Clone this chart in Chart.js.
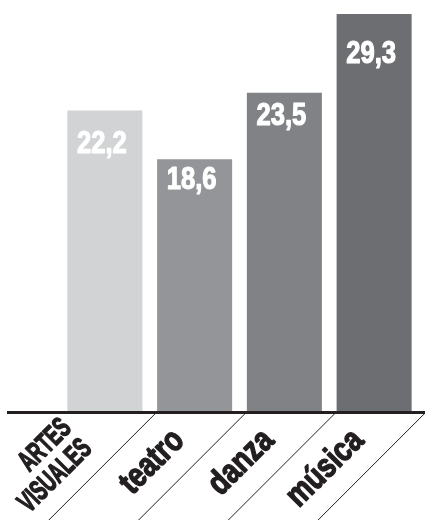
<!DOCTYPE html>
<html>
<head>
<meta charset="utf-8">
<script src="https://cdn.jsdelivr.net/npm/chart.js@4.4.0/dist/chart.umd.min.js"></script>
<style>
  html, body { margin: 0; padding: 0; background: #fff; }
  #wrap { width: 425px; height: 520px; position: relative; }
</style>
</head>
<body>
<div id="wrap"><canvas id="chart"></canvas></div>
<script>
// data
var categories = [["ARTES", "VISUALES"], "teatro", "danza", "música"];
var values = [22.2, 18.6, 23.5, 29.3];
var barColors = ["#d1d3d4", "#939598", "#808285", "#6d6e71"];

var FONT = '"Liberation Sans", Arial, sans-serif';
var SQUEEZE = 0.8; // fake a condensed face

function heavyText(ctx, txt, x, y){
  ctx.fillText(txt, x, y);
  ctx.strokeText(txt, x, y);
}

// draws the axis rule, slanted separators, slanted category names and the values inside bars
var slantPlugin = {
  id: "slantLabels",
  afterDatasetsDraw: function(chart){
    var ctx = chart.ctx;
    var area = chart.chartArea;
    var meta = chart.getDatasetMeta(0);
    var W = chart.width, H = chart.height;
    var drops = [43, 30, 32, 49];

    ctx.save();

    // values inside the bars
    ctx.fillStyle = "#fff";
    ctx.strokeStyle = "#fff";
    ctx.lineWidth = 1.2;
    ctx.lineJoin = "round";
    ctx.font = "bold 32px " + FONT;
    ctx.textAlign = "center";
    ctx.textBaseline = "alphabetic";
    meta.data.forEach(function(bar, i){
      var txt = values[i].toFixed(1).replace(".", ",");
      ctx.save();
      ctx.translate(bar.x - 3, bar.y + drops[i]);
      ctx.scale(SQUEEZE, 1);
      heavyText(ctx, txt, 0, 0);
      ctx.restore();
    });

    // baseline rule
    ctx.strokeStyle = "#231f20";
    ctx.lineWidth = 3;
    ctx.beginPath();
    ctx.moveTo(7, area.bottom + 0.5);
    ctx.lineTo(W, area.bottom + 0.5);
    ctx.stroke();

    // slanted separators
    ctx.lineWidth = 1;
    var y0 = area.bottom + 2;
    meta.data.forEach(function(bar){
      var x0 = bar.x + 50;
      ctx.beginPath();
      ctx.moveTo(x0, y0);
      ctx.lineTo(x0 - (H - y0), H);
      ctx.stroke();
    });

    // slanted category names
    ctx.fillStyle = "#231f20";
    ctx.lineWidth = 1.5;
    ctx.textAlign = "right";
    meta.data.forEach(function(bar, i){
      var lines = [].concat(categories[i]);
      var multi = lines.length > 1;
      var size = multi ? 29 : 34;
      var sq = multi ? 0.62 : SQUEEZE;
      var lh = 29;
      ctx.font = "bold " + size + "px " + FONT;
      var ax = multi ? bar.x - 12 : bar.x - 9;
      var ay = multi ? area.bottom + 38 : area.bottom + 30;
      lines.forEach(function(line, j){
        var k = (j - (lines.length - 1)) * lh / Math.SQRT2;
        ctx.save();
        ctx.translate(ax + k, ay + k);
        ctx.rotate(-Math.PI / 4);
        ctx.scale(sq, 1);
        heavyText(ctx, line, 0, 0);
        ctx.restore();
      });
    });

    ctx.restore();
  }
};

var chart = new Chart(document.getElementById("chart"), {
  type: "bar",
  data: {
    labels: categories,
    datasets: [{
      data: values,
      backgroundColor: barColors,
      borderWidth: 0,
      barPercentage: 0.836,
      categoryPercentage: 1
    }]
  },
  options: {
    responsive: true,
    maintainAspectRatio: false,
    animation: false,
    layout: { padding: { left: 60, right: 6, top: 14, bottom: 108 } },
    scales: {
      x: { display: false },
      y: { display: false, min: 0, max: Math.max.apply(null, values) }
    },
    plugins: {
      legend: { display: false },
      tooltip: { enabled: false }
    }
  },
  plugins: [slantPlugin]
});
</script>
</body>
</html>
